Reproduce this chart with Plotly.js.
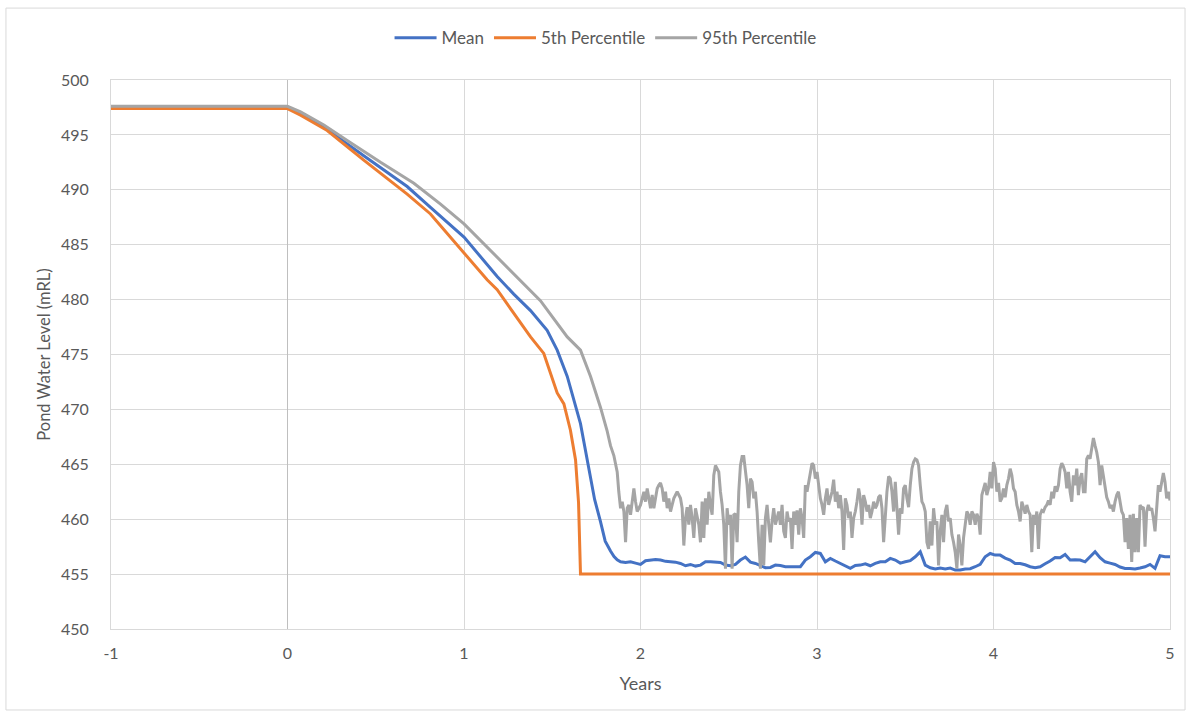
<!DOCTYPE html>
<html>
<head>
<meta charset="utf-8">
<script src="https://cdn.plot.ly/plotly-3.0.1.min.js"></script>
<style>html,body{margin:0;padding:0;background:#fff;}#chart{width:1190px;height:717px;}</style>
</head>
<body>
<div id="chart"></div>
<script>
// ---- Data (years, pond water level mRL) ----
const meanYears = [-1, 0, 0.074, 0.206, 0.432, 0.678, 0.81, 1.0, 1.188, 1.282, 1.377, 1.471, 1.528, 1.585, 1.66, 1.70, 1.74, 1.773, 1.80, 1.83, 1.85, 1.868];
const meanLevels = [497.5, 497.5, 496.9, 495.7, 493.1, 490.3, 488.4, 485.7, 482.1, 480.5, 479.0, 477.2, 475.4, 473.0, 468.7, 465.2, 461.8, 459.8, 458.0, 457.1, 456.6, 456.3];

const p5Years = [-1, 0, 0.074, 0.225, 0.432, 0.678, 0.81, 1.0, 1.131, 1.188, 1.377, 1.452, 1.49, 1.528, 1.566, 1.603, 1.632, 1.649, 1.66, 5];
const p5Levels = [497.4, 497.4, 496.8, 495.4, 492.7, 489.6, 487.8, 484.2, 481.8, 480.9, 476.6, 475.1, 473.3, 471.5, 470.5, 468.1, 465.4, 461.5, 455.0, 455.0];

const p95Years = [-1, 0, 0.074, 0.206, 0.338, 0.527, 0.716, 0.867, 1.0, 1.131, 1.282, 1.433, 1.585, 1.66, 1.717, 1.773, 1.81, 1.830, 1.849, 1.868, 1.877];
const p95Levels = [497.6, 497.6, 497.1, 495.9, 494.5, 492.5, 490.6, 488.7, 486.9, 484.8, 482.4, 479.9, 476.6, 475.4, 473.0, 470.2, 468.1, 466.7, 465.8, 464.3, 462.5];

// Regularly sampled period after the pond bottoms out (years 1.887 .. 5.0)
const steadyStart = 1.887, steadyEnd = 5.0;
const meanSteady = [
 456.12,456.06,456.12,456.00,455.88,456.22,456.28,456.34,456.28,456.16,456.12,456.09,455.97,455.76,455.88,455.73,455.82,
 456.12,456.12,456.06,456.06,455.82,455.76,455.88,456.28,456.55,456.09,455.97,455.76,455.58,455.61,455.82,455.79,455.67,455.67,455.67,
 455.67,456.28,456.58,456.97,456.88,456.12,456.43,456.19,455.97,455.73,455.52,455.79,455.82,455.94,455.76,455.97,456.12,456.12,456.43,
 456.28,456.00,456.12,456.22,456.58,457.03,455.82,455.58,455.46,455.55,455.46,455.55,455.37,455.37,455.46,455.49,455.67,455.88,456.58,
 456.88,456.73,456.73,456.46,456.28,455.97,455.97,455.85,455.67,455.58,455.67,455.94,456.19,456.52,456.49,456.79,456.28,456.31,456.28,
 456.12,456.58,457.03,456.49,456.12,456.00,455.88,455.64,455.52,455.52,455.46,455.55,455.67,455.88,455.52,456.67,456.58,456.58
];
const p95Steady = [
 461.0,461.6,460.7,457.9,461.0,461.3,460.4,461.6,462.8,461.6,460.7,461.0,461.3,461.9,462.5,461.6,462.8,461.9,461.0,462.2,461.0,461.9,462.8,463.1,463.3,462.8,461.6,462.5,461.0,461.9,460.7,461.3,461.9,462.2,462.5,462.2,461.9,461.0,457.6,460.1,461.1,459.5,461.3,460.1,458.3,461.0,460.1,459.5,457.9,461.6,458.3,
 461.9,459.5,462.5,461.3,460.4,464.0,464.9,464.6,464.3,462.5,461.3,459.5,455.5,461.0,459.5,460.4,455.5,460.4,460.5,457.9,462.5,464.9,465.7,465.7,464.6,463.1,461.0,463.7,463.4,461.9,462.5,460.7,457.9,455.5,459.5,455.8,460.1,461.3,459.5,457.9,459.8,461.0,459.5,460.1,460.7,459.5,461.3,458.9,458.3,460.7,459.8,460.1,457.3,460.7,459.5,460.8,458.6,
 461.0,460.1,458.3,463.1,462.5,463.4,464.3,465.1,464.9,463.7,464.3,463.1,461.9,461.3,460.4,461.9,462.8,461.3,461.9,462.5,463.6,461.6,462.5,461.0,462.2,460.7,457.2,461.9,461.3,460.1,460.7,458.3,460.1,460.7,461.6,462.8,461.9,459.5,462.2,461.6,460.7,461.3,460.1,460.7,461.6,461.0,461.3,462.0,462.2,461.0,457.9,460.7,462.5,463.9,463.7,462.5,460.7,
 463.4,461.0,458.6,461.0,460.5,462.8,463.1,461.9,461.1,463.1,464.6,465.2,465.5,465.4,464.9,463.1,461.6,461.3,460.7,457.9,457.3,459.8,457.6,461.0,459.5,459.8,455.8,458.9,460.4,457.9,460.7,461.3,459.8,460.1,458.6,457.9,457.0,455.5,458.6,457.6,455.8,458.3,459.5,460.7,460.4,459.5,460.7,460.4,459.5,460.5,460.1,458.6,462.2,462.8,463.3,462.2,462.8,
 464.3,462.8,465.2,464.6,462.5,463.3,461.6,461.9,462.8,462.0,463.1,463.7,464.6,464.0,462.8,462.5,461.3,460.7,459.8,461.6,461.1,460.5,461.3,460.7,460.4,457.0,460.4,459.5,460.7,457.3,460.4,460.8,460.7,461.1,461.3,461.7,461.3,462.5,461.9,463.0,462.5,463.1,464.6,465.1,464.8,464.3,462.8,464.3,462.5,461.6,464.0,463.1,464.6,462.2,463.7,464.2,462.5,
 462.5,465.5,465.8,465.5,466.7,467.4,466.7,466.1,465.2,463.1,464.9,464.0,463.1,462.0,461.6,461.0,461.3,460.7,461.6,462.2,462.5,461.6,460.7,460.4,457.9,460.1,457.3,460.4,456.1,460.5,457.0,460.1,457.0,461.3,461.0,461.1,457.5,460.7,461.3,460.8,461.0,460.1,458.9,461.0,463.1,462.5,463.4,464.2,463.4,461.9,462.5,461.7
];

const seriesNames = ['Mean', '5th Percentile', '95th Percentile'];
const xTicks = [-1, 0, 1, 2, 3, 4, 5];
const yTicks = [450, 455, 460, 465, 470, 475, 480, 485, 490, 495, 500];

function grid(a, b, n) { return Array.from({length: n}, (_, i) => a + (b - a) * i / (n - 1)); }

const meanX = meanYears.concat(grid(steadyStart, steadyEnd, meanSteady.length));
const meanY = meanLevels.concat(meanSteady);
const p95X = p95Years.concat(grid(steadyStart, steadyEnd, p95Steady.length));
const p95Y = p95Levels.concat(p95Steady);

const FONT = 'Lato, "Open Sans", "Liberation Sans", sans-serif';
const traces = [
  {x: meanX, y: meanY, name: seriesNames[0], mode: 'lines', line: {color: '#4472C4', width: 3}},
  {x: p5Years, y: p5Levels, name: seriesNames[1], mode: 'lines', line: {color: '#ED7D31', width: 3}},
  {x: p95X, y: p95Y, name: seriesNames[2], mode: 'lines', line: {color: '#A5A5A5', width: 3}}
];

const layout = {
  width: 1190, height: 717,
  margin: {l: 111, r: 20, t: 80, b: 88},
  paper_bgcolor: '#fff', plot_bgcolor: '#fff',
  font: {family: FONT, color: '#595959', size: 16},
  showlegend: true,
  legend: {orientation: 'h', x: 0.467, xanchor: 'center', y: 1.076, yanchor: 'middle',
           font: {family: FONT, size: 17, color: '#595959'}, traceorder: 'normal', itemwidth: 42, tracegroupgap: 0},
  xaxis: {
    range: [-1, 5], tickvals: xTicks, ticktext: xTicks.map(String),
    showgrid: true, gridcolor: '#d9d9d9', gridwidth: 1,
    zeroline: true, zerolinecolor: '#bfbfbf', zerolinewidth: 1.3,
    showline: true, linecolor: '#d9d9d9', linewidth: 1, mirror: true,
    ticks: '', ticklabelstandoff: 10,
    tickfont: {family: FONT, size: 16, color: '#595959'},
    title: {text: 'Years', font: {family: FONT, size: 18, color: '#595959'}, standoff: 16}
  },
  yaxis: {
    range: [450, 500], tickvals: yTicks, ticktext: yTicks.map(String),
    showgrid: true, gridcolor: '#d9d9d9', gridwidth: 1,
    zeroline: false,
    showline: true, linecolor: '#d9d9d9', linewidth: 1, mirror: true,
    ticks: '', ticklabelstandoff: 18,
    tickfont: {family: FONT, size: 16, color: '#595959'},
    title: {text: 'Pond Water Level (mRL)', font: {family: FONT, size: 16.5, color: '#595959'}, standoff: 6}
  },
  shapes: [
    {type: 'rect', xref: 'paper', yref: 'paper', x0: -0.0992, x1: 1.0142, y0: -0.1475, y1: 1.131,
     line: {color: '#d9d9d9', width: 1}, fillcolor: 'rgba(0,0,0,0)', layer: 'below'}
  ]
};

Plotly.newPlot('chart', traces, layout, {displayModeBar: false, staticPlot: true});
</script>
</body>
</html>
